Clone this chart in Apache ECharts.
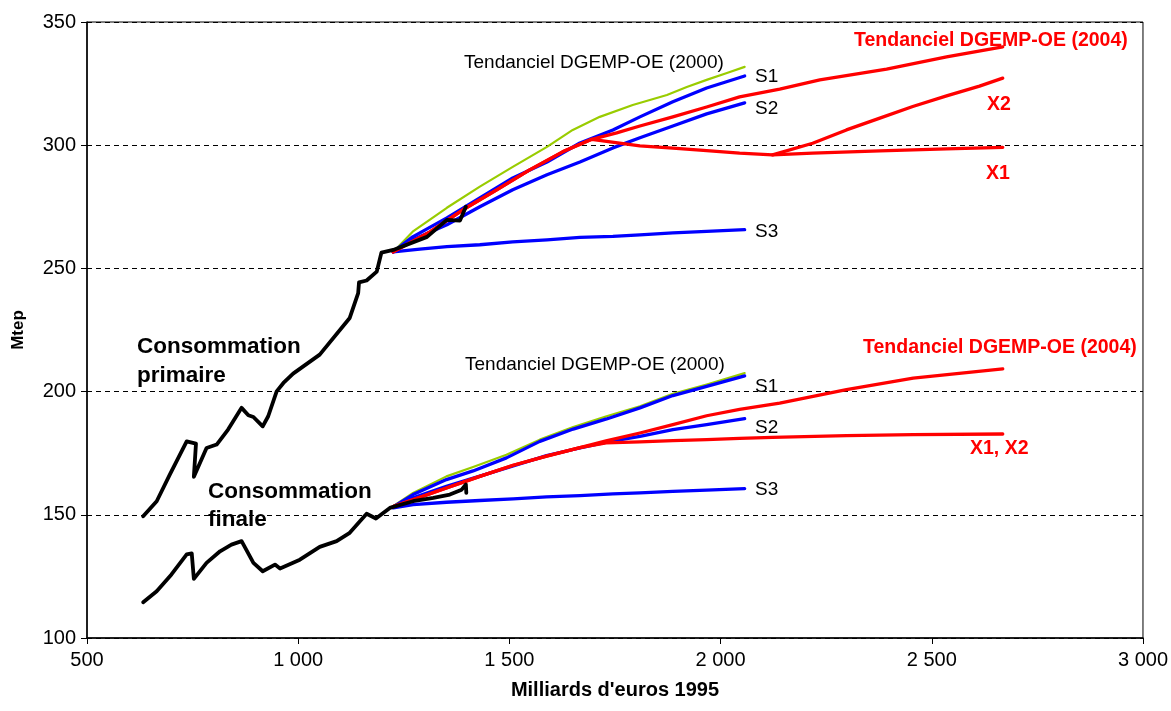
<!DOCTYPE html>
<html>
<head>
<meta charset="utf-8">
<script src="https://cdn.jsdelivr.net/npm/echarts@6/dist/echarts.min.js"></script>
<style>
html,body{margin:0;padding:0;background:#fff;}
#chart{width:1171px;height:711px;}
</style>
</head>
<body>
<div id="chart"></div>
<script>
// ---- Data (x: Milliards d'euros 1995, y: Mtep) ----
const primaryHist = [[633,149.4],[665,155.5],[696,166.3],[736,179.8],[758,178.9],[753,165.4],[783,177.1],[807,178.5],[834,184.6],[866,193.4],[882,190.4],[894,189.7],[916,185.9],[929,190],[949,200.1],[965,203.5],[988,207.3],[1051,215],[1122,229.9],[1142,240],[1144,244.3],[1162,245.1],[1186,248.7],[1197,256.4],[1225,257.5],[1305,262.8],[1352,269.7],[1383,269.4],[1397,275]];
const finalHist = [[633,114.5],[665,119],[700,125.8],[736,133.9],[748,134.3],[753,124],[783,130.5],[815,135.2],[842,137.9],[866,139.3],[894,130.5],[916,127.1],[945,129.8],[957,128.2],[1004,131.8],[1051,137],[1091,139.3],[1122,142.7],[1162,150.4],[1184,148.5],[1217,152.8],[1225,153.2],[1272,155.5],[1320,156.9],[1359,158.2],[1387,160.2],[1397,162.3],[1398,158.9]];

const primTrend2000 = [[1225,256.7],[1271,264.9],[1352,274.6],[1430,283.2],[1508,291.2],[1589,299.3],[1650,306.2],[1714,311.5],[1792,316.3],[1873,320.4],[1920,323.6],[1967,326.5],[2015,329.3],[2057,331.8]];
const primS1 = [[1225,256.7],[1271,262.8],[1352,270.5],[1430,278.6],[1508,286.7],[1589,293.2],[1667,300.9],[1745,306.2],[1809,311.5],[1887,317.6],[1967,323.2],[2057,328.1]];
const primS2 = [[1225,256.7],[1271,261.6],[1352,267.7],[1430,275],[1508,281.9],[1589,288],[1667,293.2],[1745,298.9],[1809,303],[1887,307.8],[1967,312.7],[2057,317.2]];
const primS3 = [[1225,256.7],[1288,257.8],[1352,258.8],[1430,259.6],[1508,260.8],[1589,261.6],[1667,262.6],[1745,263],[1809,263.6],[1887,264.4],[1967,265],[2057,265.7]];
const primTrend2004 = [[1225,256.7],[1312,264.8],[1390,273.8],[1470,281.9],[1548,290],[1626,297.3],[1695,302.4],[1754,305],[1809,307.8],[1887,311.5],[1967,315.5],[2045,319.6],[2140,322.8],[2235,326.5],[2393,330.9],[2535,335.8],[2668,339.9]];
const primX1 = [[1225,256.7],[1312,264.8],[1390,273.8],[1470,281.9],[1548,290],[1626,297.3],[1695,302.4],[1809,299.7],[1887,298.8],[1967,297.8],[2045,296.8],[2123,296.1],[2218,296.8],[2377,297.7],[2535,298.5],[2668,299.1]];
const primX2 = [[2123,296.1],[2218,300.8],[2298,306.2],[2377,311],[2455,315.7],[2535,320],[2613,324],[2668,327.2]];

const finTrend2000 = [[1225,153.5],[1272,158.9],[1351,165.6],[1414,169.4],[1493,174.4],[1572,180.5],[1651,185.6],[1730,190],[1809,194],[1887,199.1],[1967,202.9],[2057,207.5]];
const finS1 = [[1225,153.2],[1272,158.2],[1351,164.3],[1414,167.8],[1493,173.1],[1572,179.8],[1651,184.8],[1730,188.9],[1809,193.4],[1887,198.4],[1967,202.1],[2057,206.4]];
const finS2 = [[1225,153.3],[1272,156.9],[1351,161.6],[1430,165.7],[1509,169.8],[1588,174],[1651,176.5],[1730,179.5],[1809,181.8],[1887,184.6],[1967,186.6],[2057,189]];
const finS3 = [[1225,152.8],[1272,154.1],[1351,155.1],[1430,155.8],[1509,156.5],[1588,157.3],[1667,157.8],[1745,158.5],[1809,158.9],[1887,159.5],[1967,160],[2057,160.6]];
const finTrend2004 = [[1225,153.3],[1351,160.9],[1430,165.6],[1509,170.1],[1588,173.8],[1667,177.3],[1729,180],[1809,183.2],[1887,186.6],[1967,190.2],[2045,192.8],[2140,195.3],[2298,200.8],[2456,205.5],[2668,209.2]];
const finX = [[1225,153.3],[1351,160.9],[1430,165.6],[1509,170.1],[1588,173.8],[1667,177.3],[1729,179.2],[1809,179.6],[1887,180.1],[1967,180.5],[2045,181],[2123,181.4],[2298,182.1],[2456,182.5],[2668,182.8]];

const xTicks = {min: 500, max: 3000, step: 500};
const yTicks = {min: 100, max: 350, step: 50};
const xTitle = "Milliards d'euros 1995";
const yTitle = "Mtep";

// ---- Styles ----
const BLUE = '#0000FF', RED = '#FF0000', GREEN = '#99CC00', BLACK = '#000000';
const FONT = '"Liberation Sans", Arial, sans-serif';

function line(name, data, color, width, z) {
  return {
    name, type: 'line', data, symbol: 'none', z: z,
    lineStyle: {color, width, cap: 'round', join: 'round'},
    silent: true, animation: false
  };
}

function fmtX(v) {
  if (v >= 1000) return Math.floor(v / 1000) + ' ' + String(v % 1000).padStart(3, '0');
  return String(v);
}

function txt(text, x, y, opts) {
  opts = opts || {};
  return {
    type: 'text', z: 100,
    style: {
      text, x, y,
      font: (opts.bold ? 'bold ' : '') + (opts.size || 19) + 'px ' + FONT,
      fill: opts.color || '#000',
      textAlign: 'left', textVerticalAlign: 'middle'
    }
  };
}

const chart = echarts.init(document.getElementById('chart'), null, {renderer: 'canvas'});
chart.setOption({
  animation: false,
  backgroundColor: '#fff',
  grid: {left: 87, right: 27, top: 22, bottom: 73, show: true, borderColor: '#000', borderWidth: 1, containLabel: false},
  xAxis: {
    type: 'value', min: xTicks.min, max: xTicks.max, interval: xTicks.step,
    name: xTitle, nameLocation: 'middle', nameGap: 42,
    nameTextStyle: {fontFamily: FONT, fontWeight: 'bold', fontSize: 20, color: '#000'},
    axisLine: {show: true, onZero: false, lineStyle: {color: '#000', width: 1.5}},
    axisTick: {show: true, inside: false, length: 6, lineStyle: {color: '#000'}},
    axisLabel: {formatter: fmtX, fontFamily: FONT, fontSize: 20, color: '#000', margin: 12},
    splitLine: {show: false}
  },
  yAxis: {
    type: 'value', min: yTicks.min, max: yTicks.max, interval: yTicks.step,
    name: yTitle, nameLocation: 'middle', nameGap: 60, nameRotate: 90,
    nameTextStyle: {fontFamily: FONT, fontWeight: 'bold', fontSize: 17, color: '#000'},
    axisLine: {show: true, onZero: false, lineStyle: {color: '#000', width: 1.5}},
    axisTick: {show: true, inside: false, length: 6, lineStyle: {color: '#000'}},
    axisLabel: {fontFamily: FONT, fontSize: 20, color: '#000', margin: 11},
    splitLine: {show: true, lineStyle: {color: '#000', width: 1, type: [5, 4]}}
  },
  series: [
    line('Tendanciel 2000 primaire', primTrend2000, GREEN, 2.2, 2),
    line('Tendanciel 2000 finale', finTrend2000, GREEN, 2.2, 2),
    line('S3 primaire', primS3, BLUE, 3.3, 3),
    line('S2 primaire', primS2, BLUE, 3.3, 3),
    line('S1 primaire', primS1, BLUE, 3.3, 3),
    line('S3 finale', finS3, BLUE, 3.3, 3),
    line('S2 finale', finS2, BLUE, 3.3, 3),
    line('S1 finale', finS1, BLUE, 3.3, 3),
    line('Tendanciel 2004 primaire', primTrend2004, RED, 3.3, 4),
    line('X1 primaire', primX1, RED, 3.3, 4),
    line('X2 primaire', primX2, RED, 3.3, 4),
    line('Tendanciel 2004 finale', finTrend2004, RED, 3.3, 4),
    line('X1, X2 finale', finX, RED, 3.3, 4),
    line('Consommation primaire', primaryHist, BLACK, 3.8, 5),
    line('Consommation finale', finalHist, BLACK, 3.8, 5)
  ],
  graphic: [
    txt('Tendanciel DGEMP-OE (2000)', 464, 63),
    txt('S1', 755, 77), txt('S2', 755, 109), txt('S3', 755, 232),
    txt('Tendanciel DGEMP-OE (2000)', 465, 365),
    txt('S1', 755, 387), txt('S2', 755, 428), txt('S3', 755, 490),
    txt('Tendanciel DGEMP-OE (2004)', 854, 41, {bold: true, color: RED, size: 19.5}),
    txt('X2', 987, 105, {bold: true, color: RED, size: 19.5}),
    txt('X1', 986, 174, {bold: true, color: RED, size: 19.5}),
    txt('Tendanciel DGEMP-OE (2004)', 863, 348, {bold: true, color: RED, size: 19.5}),
    txt('X1, X2', 970, 449, {bold: true, color: RED, size: 19.5}),
    txt('Consommation', 137, 347, {bold: true, size: 22.5}),
    txt('primaire', 137, 376, {bold: true, size: 22.5}),
    txt('Consommation', 208, 492, {bold: true, size: 22.5}),
    txt('finale', 208, 520, {bold: true, size: 22.5})
  ]
});
</script>
</body>
</html>
